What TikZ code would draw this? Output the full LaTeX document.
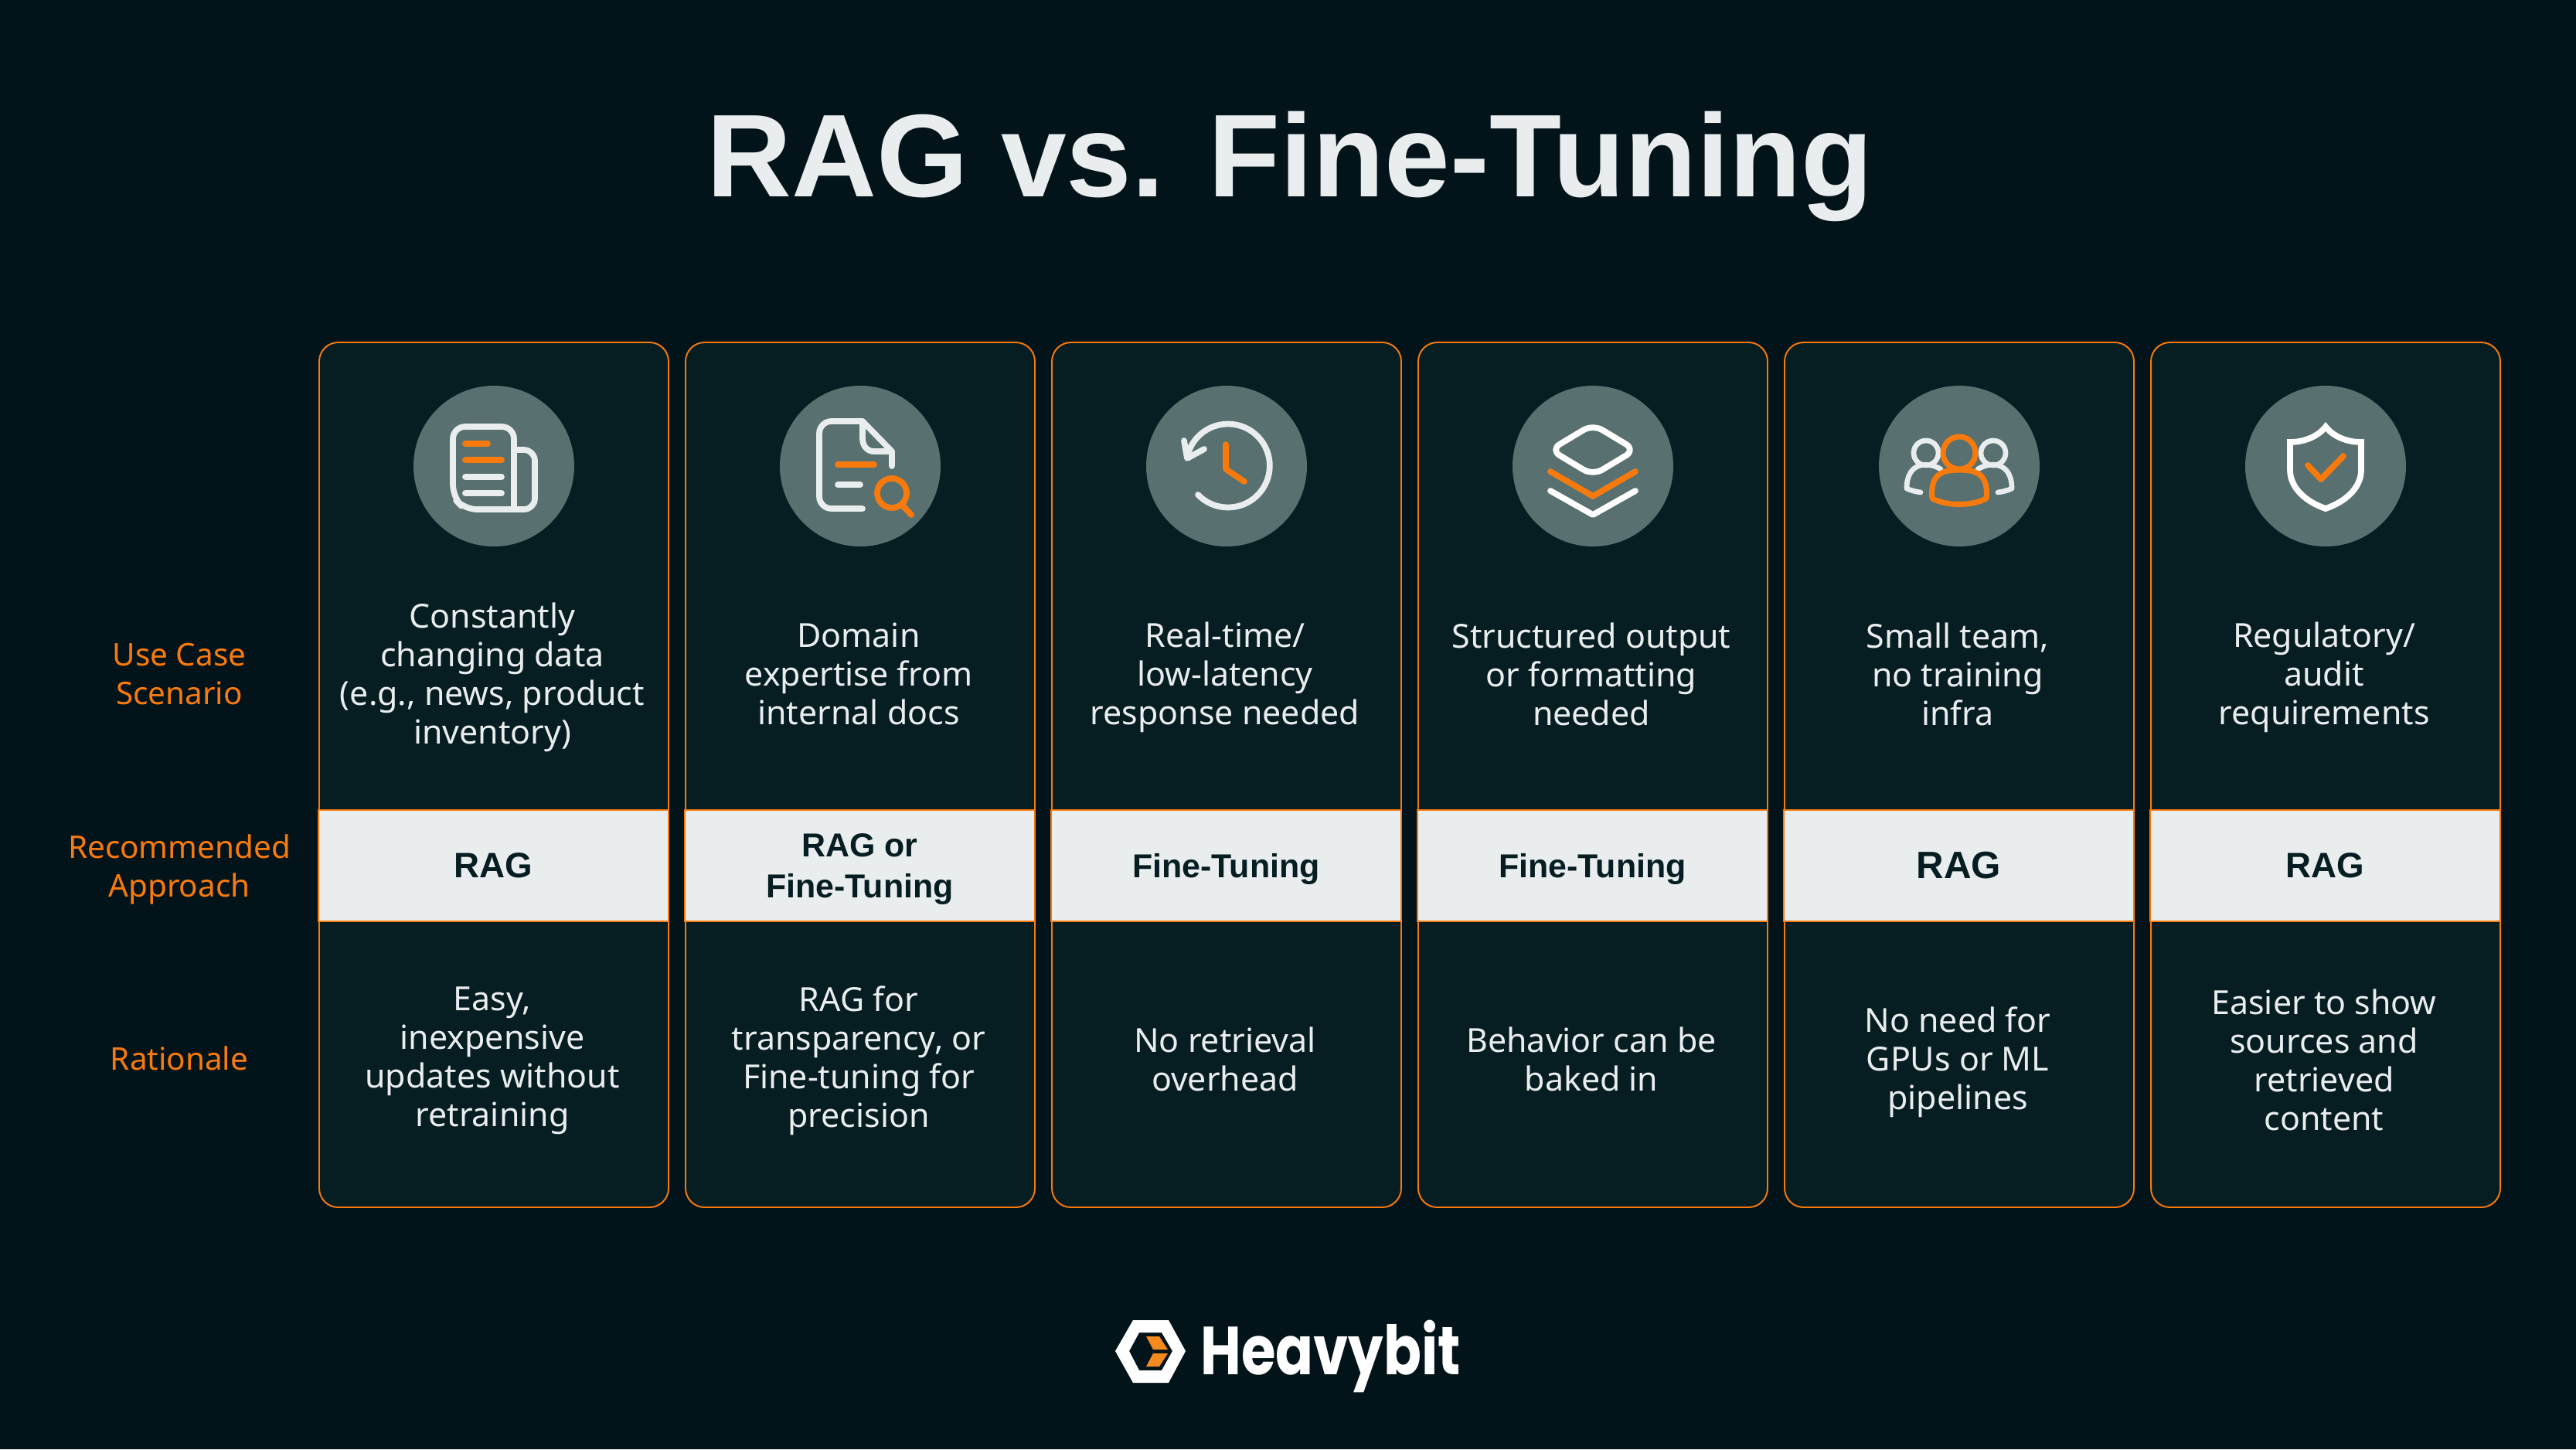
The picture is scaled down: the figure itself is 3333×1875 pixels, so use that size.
\documentclass[tikz,border=0pt]{standalone}
\usepackage{fontspec}
\setmainfont{Noto Sans}
\newfontfamily\logofont{Poppins}
\newfontfamily\bandfont{Liberation Sans}
\usetikzlibrary{calc,positioning,arrows.meta,backgrounds}
\definecolor{pagedark}{HTML}{02141A}
\definecolor{carddark}{HTML}{061D22}
\definecolor{hotorange}{HTML}{F97A0C}
\definecolor{paleband}{HTML}{E9EDEE}
\definecolor{iconslate}{HTML}{58706F}
\definecolor{logoorange}{HTML}{F58A1F}
\tikzset{
	cardbox/.style={draw=hotorange,fill=carddark,line width=0.55pt,rounded corners=7pt},
	bandbox/.style={draw=hotorange,fill=paleband,line width=0.7pt,minimum width=4.53cm,minimum height=1.44cm,inner sep=0pt,
		text=carddark,align=center,font=\fontsize{12.2pt}{15pt}\selectfont\bandfont\bfseries},
	bodytext/.style={text=paleband,font=\fontsize{12.2pt}{14.2pt}\selectfont,align=center,inner sep=0pt},
	rowtext/.style={text=hotorange,font=\fontsize{11.5pt}{14.2pt}\selectfont,align=center,inner sep=0pt},
	paleline/.style={draw=paleband,line width=2.2pt,line cap=round,line join=round},
	hotline/.style={draw=hotorange,line width=2.2pt,line cap=round,line join=round}
}
\begin{document}
\begin{tikzpicture}[x=0.01cm,y=-0.01cm]
	\useasboundingbox (0,0) rectangle (3333,1875);
	\fill[pagedark] (0,0) rectangle (3333,1875);

	% title
	\node[text=paleband,font=\fontsize{43.3pt}{50pt}\selectfont\bandfont\bfseries,inner sep=0pt] (title) at (1669,215) {RAG vs. Fine-Tuning};

	% cards
	\foreach \cx in {639,1113,1587,2061,2535,3009}{
		\draw[cardbox] (\cx-226,443) rectangle (\cx+226,1562);
		\fill[iconslate] (\cx,603) circle (104);
	}

	% row labels
	\node[rowtext] (rowuse) at (232,872) {Use Case\\Scenario};
	\node[rowtext] (rowrec) at (232,1125) {Recommended\\Approach};
	\node[rowtext] (rowwhy) at (232,1369) {Rationale};

	% scenarios
	\node[bodytext] (usea) at (637,876) {Constantly\\changing data\\(e.g., news, product\\inventory)};
	\node[bodytext] (useb) at (1111,872) {Domain\\expertise from\\internal docs};
	\node[bodytext] (usec) at (1585,876) {Real-time/\\low-latency\\response needed};
	\node[bodytext] (used) at (2059,872) {Structured output\\or formatting\\needed};
	\node[bodytext] (usee) at (2533,872) {Small team,\\no training\\infra};
	\node[bodytext] (usef) at (3007,876) {Regulatory/\\audit\\requirements};

	% approaches
	\node[bandbox,font=\fontsize{13pt}{14pt}\selectfont\bandfont\bfseries] (banda) at (638.5,1120) {RAG};
	\node[bandbox,text depth=0pt] (bandb) at (1112.5,1120) {RAG or\\Fine-Tuning};
	\node[bandbox,text depth=0pt] (bandc) at (1586.5,1120) {Fine-Tuning};
	\node[bandbox,text depth=0pt] (bandd) at (2060.5,1120) {Fine-Tuning};
	\node[bandbox,font=\fontsize{14pt}{14pt}\selectfont\bandfont\bfseries] (bande) at (2534.5,1120) {RAG};
	\node[bandbox,font=\fontsize{13pt}{14pt}\selectfont\bandfont\bfseries] (bandf) at (3008.5,1120) {RAG};

	% rationale
	\node[bodytext] (whya) at (637,1372) {Easy,\\inexpensive\\updates without\\retraining};
	\node[bodytext] (whyb) at (1111,1372) {RAG for\\transparency, or\\Fine-tuning for\\precision};
	\node[bodytext] (whyc) at (1585,1370) {No retrieval\\overhead};
	\node[bodytext] (whyd) at (2059,1370) {Behavior can be\\baked in};
	\node[bodytext] (whye) at (2533,1374) {No need for\\GPUs or ML\\pipelines};
	\node[bodytext] (whyf) at (3007,1371) {Easier to show\\sources and\\retrieved\\content};

	% newspaper icon
	\begin{scope}[shift={(639,603)}]
		\draw[paleline,rounded corners=4.5pt] (26,56) -- (-38,56) -- (-53,40) -- (-53,-51) -- (26,-51) -- (26,56);
		\draw[paleline,rounded corners=4pt] (30,-21) -- (53,-21) -- (53,56) -- (26,56);
		\draw[hotline] (-37,-29) -- (-8,-29);
		\draw[hotline] (-37,-8) -- (10,-8);
		\draw[paleline] (-37,14) -- (10,14);
		\draw[paleline] (-37,35) -- (10,35);
	\end{scope}

	% document icon
	\begin{scope}[shift={(1113,603)}]
		\draw[paleline,rounded corners=4.5pt] (3,55) -- (-53,55) -- (-53,-58) -- (3,-58);
		\draw[paleline] (3,-58) -- (41,-19) -- (41,0);
		\draw[paleline] (3,-58) -- (3,-36) .. controls (3,-26) and (9,-19) .. (18,-19) -- (41,-19);
		\draw[hotline] (-29,-2) -- (18,-2);
		\draw[paleline] (-29,24) -- (0,24);
		\draw[hotline] (41,35) circle (19);
		\draw[hotline] (54,50) -- (66,63);
	\end{scope}

	% history icon
	\begin{scope}[shift={(1588,603)}]
		\draw[paleline] (-38,37) arc[start angle=136,end angle=-165,radius=54];
		\draw[paleline] (-56,-33) -- (-52,-10) -- (-30,-22);
		\draw[hotline] (-2,-28) -- (-2,4) -- (22,20);
	\end{scope}

	% layers icon
	\begin{scope}[shift={(2061,603)}]
		\draw[paleline,draw=white,rounded corners=4pt] (0,-54) -- (55,-21) -- (0,12) -- (-55,-21) -- cycle;
		\draw[hotline] (-55,7) -- (0,39) -- (55,7);
		\draw[paleline,draw=white] (-55,32) -- (0,63) -- (55,32);
	\end{scope}

	% team icon
	\begin{scope}[shift={(2535,603)}]
		\draw[paleline,line width=1.9pt] (-43,-17) circle (16);
		\draw[paleline,line width=1.9pt] (44,-17) circle (16);
		\draw[paleline,line width=1.9pt] (-24,4) .. controls (-40,-6) and (-68,-6) .. (-68,29) .. controls (-62,32) and (-56,33) .. (-50,34);
		\draw[paleline,line width=1.9pt] (24,4) .. controls (40,-6) and (68,-6) .. (68,29) .. controls (62,32) and (56,33) .. (50,34);
		\draw[hotline,line width=2pt] (0,-17) circle (21);
		\draw[hotline,line width=2pt] (-35,42) .. controls (-38,10) and (-22,5) .. (0,5) .. controls (22,5) and (38,10) .. (35,42) .. controls (15,52) and (-15,52) .. (-35,42) -- cycle;
	\end{scope}

	% shield icon
	\begin{scope}[shift={(3009,603)}]
		\draw[paleline,draw=white,line width=2.2pt,line join=miter] (0,-51) .. controls (-10,-38) and (-28,-31) .. (-46,-31) -- (-46,5) .. controls (-46,28) and (-26,46) .. (0,55) .. controls (26,46) and (46,28) .. (46,5) -- (46,-31) .. controls (28,-31) and (10,-38) .. (0,-51) -- cycle;
		\draw[hotline] (-23,-1) -- (-6,17) -- (23,-13);
	\end{scope}

	% logo
	\fill[white,even odd rule] (1443,1748) -- (1466,1708) -- (1512,1708) -- (1534,1748) -- (1512,1789) -- (1466,1789) -- cycle
		(1461,1748) -- (1474,1724) -- (1503,1724) -- (1517,1748) -- (1503,1773) -- (1474,1773) -- cycle;
	\fill[logoorange] (1483,1729) -- (1500,1729) -- (1511,1746) -- (1492,1746) -- cycle;
	\fill[logoorange] (1492,1751) -- (1511,1751) -- (1500,1768) -- (1483,1768) -- cycle;
	\node[text=white,font=\fontsize{25pt}{25pt}\selectfont\logofont\bfseries,inner sep=0pt,anchor=base west] (logotext) at (1553,1778) {\scalebox{0.82}[1]{Heavybit}};
\end{tikzpicture}
\end{document}
